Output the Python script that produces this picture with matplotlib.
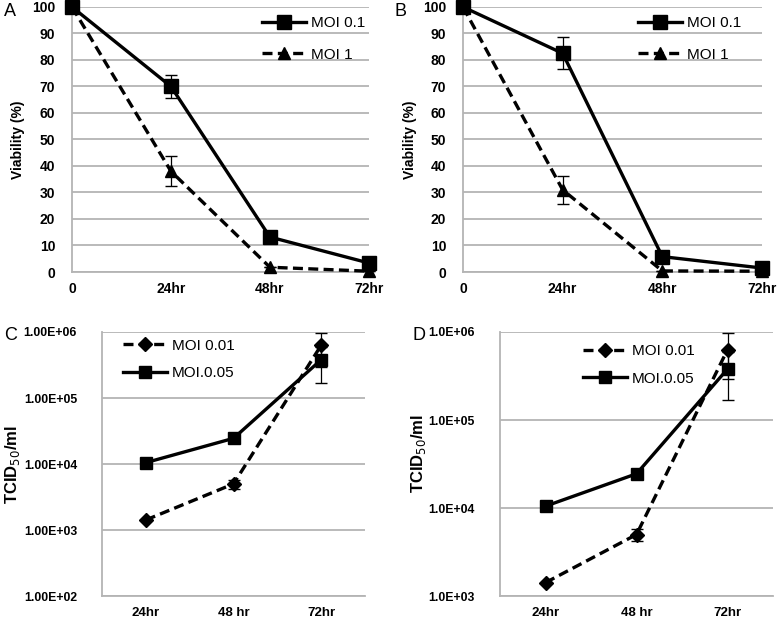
import matplotlib
matplotlib.use("Agg")
import matplotlib.pyplot as plt
from matplotlib.ticker import FixedLocator, FixedFormatter, NullLocator

plt.rcParams["font.family"] = ["Liberation Sans", "DejaVu Sans"]

GRID_COLOR = "#b4b4b4"
LW = 2.4

# panels A and B: viability (%)
via_labels = ["0", "24hr", "48hr", "72hr"]
a_moi01 = [100, 70, 13.2, 3.4]
a_moi01_err = [0, 4.5, 0, 0]
a_moi1 = [100, 38, 1.8, 0.3]
a_moi1_err = [0, 5.7, 0, 0]
b_moi01 = [100, 82.5, 5.8, 1.5]
b_moi01_err = [0, 6.0, 0, 0]
b_moi1 = [100, 31, 0.4, 0.3]
b_moi1_err = [0, 5.2, 0, 0]
via_ticks = [0, 10, 20, 30, 40, 50, 60, 70, 80, 90, 100]

# panels C and D: TCID50/ml
tcid_labels = ["24hr", "48 hr", "72hr"]
moi001 = [1.42e3, 5.0e3, 6.3e5]
moi001_err = [0, 800, 3.4e5]
moi005 = [1.05e4, 2.45e4, 3.8e5]
moi005_err = [0, 0, 2.1e5]
c_yticks = [1e2, 1e3, 1e4, 1e5, 1e6]
c_yticklabels = ["1.00E+02", "1.00E+03", "1.00E+04", "1.00E+05", "1.00E+06"]
d_yticks = [1e3, 1e4, 1e5, 1e6]
d_yticklabels = ["1.0E+03", "1.0E+04", "1.0E+05", "1.0E+06"]


def style_axes(ax):
    for s in ["top", "right"]:
        ax.spines[s].set_visible(False)
    for s in ["left", "bottom"]:
        ax.spines[s].set_color(GRID_COLOR)
        ax.spines[s].set_linewidth(1.3)
    ax.tick_params(length=0)
    ax.yaxis.grid(True, color=GRID_COLOR, linewidth=1.3)
    ax.set_axisbelow(True)
    for lab in ax.get_xticklabels() + ax.get_yticklabels():
        lab.set_fontweight("bold")


def add_legend(ax, x0, y0, spacing):
    handles, labels = ax.get_legend_handles_labels()
    handles = [h[0] for h in handles]
    ax.legend(handles, labels, loc="upper left", bbox_to_anchor=(x0, y0),
              frameon=False, fontsize=11, handlelength=2.9, handletextpad=0.3,
              labelspacing=spacing, borderpad=0, borderaxespad=0)


def viability_panel(ax, s1, e1, s2, e2, leg_x, label_x):
    x = range(len(via_labels))
    ax.errorbar(x, s1, yerr=e1, color="black", lw=LW, marker="s", ms=9.5,
                ecolor="black", elinewidth=0.9, capsize=4, clip_on=False,
                label="MOI 0.1", zorder=3)
    ax.errorbar(x, s2, yerr=e2, color="black", lw=LW, ls=(0, (3, 1.6)),
                marker="^", ms=9, ecolor="black", elinewidth=0.9, capsize=4,
                clip_on=False, label="MOI 1", zorder=3)
    ax.set_xlim(0, 3)
    ax.set_ylim(0, 100)
    ax.set_xticks(list(x))
    ax.set_xticklabels(via_labels, fontsize=10)
    ax.set_yticks(via_ticks)
    ax.set_yticklabels([str(v) for v in via_ticks], fontsize=10)
    ax.tick_params(axis="y", pad=12)
    ax.tick_params(axis="x", pad=7)
    ax.set_ylabel("Viability (%)", fontsize=10, fontweight="bold")
    ax.yaxis.set_label_coords(label_x, 0.5)
    style_axes(ax)
    add_legend(ax, leg_x, 0.965, 1.15)


def tcid_panel(ax, yticks, yticklabels, ylim, leg_x, leg_y, label_x, label_y):
    x = range(len(tcid_labels))
    ax.errorbar(x, moi001, yerr=moi001_err, color="black", lw=LW,
                ls=(0, (3, 1.6)), marker="D", ms=7, ecolor="black",
                elinewidth=0.9, capsize=4, label="MOI 0.01", zorder=3)
    ax.errorbar(x, moi005, yerr=moi005_err, color="black", lw=LW, marker="s",
                ms=9, ecolor="black", elinewidth=0.9, capsize=4,
                label="MOI.0.05", zorder=3)
    ax.set_yscale("log")
    ax.set_ylim(*ylim)
    ax.set_xlim(-0.5, 2.5)
    ax.set_xticks(list(x))
    ax.set_xticklabels(tcid_labels, fontsize=9.5)
    ax.yaxis.set_major_locator(FixedLocator(yticks))
    ax.yaxis.set_major_formatter(FixedFormatter(yticklabels))
    ax.yaxis.set_minor_locator(NullLocator())
    ax.tick_params(axis="y", pad=18, labelsize=8.8)
    ax.tick_params(axis="x", pad=8)
    ax.set_ylabel("TCID$_{50}$/ml", fontsize=12, fontweight="bold")
    ax.yaxis.set_label_coords(label_x, label_y)
    style_axes(ax)
    add_legend(ax, leg_x, leg_y, 0.9)


fig = plt.figure(figsize=(7.77, 6.23), dpi=100)
ax_a = fig.add_axes([0.0927, 0.5634, 0.382, 0.4254])
ax_b = fig.add_axes([0.5959, 0.5634, 0.3848, 0.4254])
ax_c = fig.add_axes([0.1313, 0.0433, 0.3385, 0.4238])
ax_d = fig.add_axes([0.6435, 0.0433, 0.3514, 0.4238])

viability_panel(ax_a, a_moi01, a_moi01_err, a_moi1, a_moi1_err, 0.64, -0.158)
viability_panel(ax_b, b_moi01, b_moi01_err, b_moi1, b_moi1_err, 0.585, -0.154)
tcid_panel(ax_c, c_yticks, c_yticklabels, (1e2, 1e6), 0.08, 0.975, -0.305, 0.5)
tcid_panel(ax_d, d_yticks, d_yticklabels, (1e3, 1e6), 0.304, 0.955, -0.262, 0.54)

# panel letters
for letter, px, py in [("A", 4, 12), ("B", 394, 12), ("C", 4, 336), ("D", 412, 336)]:
    fig.text(px / 777, 1 - py / 623, letter, fontsize=13, va="center", ha="left")

fig.savefig("out.png", dpi=100)
